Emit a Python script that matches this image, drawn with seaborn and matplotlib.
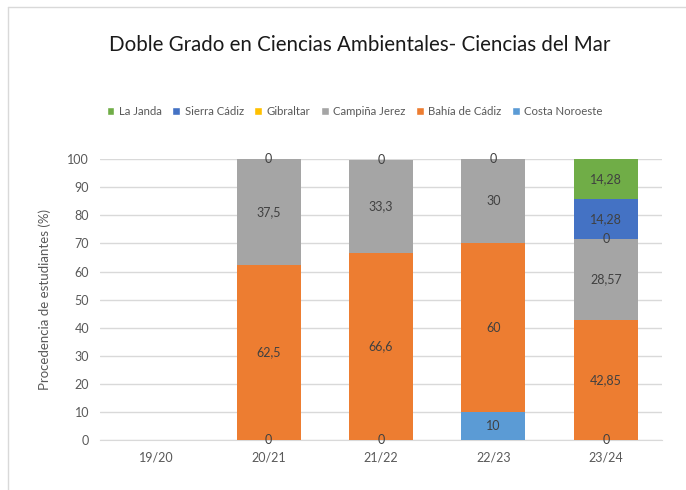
import numpy as np
import pandas as pd
import matplotlib.pyplot as plt
import seaborn as sns
from matplotlib.patches import Patch
from matplotlib.lines import Line2D

# -----------------------------
# Data (NaN = no data for that year)
# -----------------------------
years = ['19/20', '20/21', '21/22', '22/23', '23/24']
costa_noroeste = [np.nan, 0, 0, 10, 0]
bahia_cadiz = [np.nan, 62.5, 66.6, 60, 42.85]
campina_jerez = [np.nan, 37.5, 33.3, 30, 28.57]
gibraltar = [np.nan, 0, 0, 0, 0]
sierra_cadiz = [np.nan, np.nan, np.nan, np.nan, 14.28]
la_janda = [np.nan, np.nan, np.nan, np.nan, 14.28]

# stack order bottom -> top
series = [
    ('Costa Noroeste', costa_noroeste, '#5B9BD5'),
    ('Bahía de Cádiz', bahia_cadiz, '#ED7D31'),
    ('Campiña Jerez', campina_jerez, '#A5A5A5'),
    ('Gibraltar', gibraltar, '#FFC000'),
    ('Sierra Cádiz', sierra_cadiz, '#4472C4'),
    ('La Janda', la_janda, '#70AD47'),
]

sns.set_style('white')
plt.rcParams['font.family'] = ['Lato', 'DejaVu Sans']

fig = plt.figure(figsize=(6.86, 4.90), dpi=100)
ax = fig.add_axes([0.146, 0.102, 0.819, 0.573])

vals = np.array([np.nan_to_num(np.array(s[1], dtype=float)) for s in series])
cum = np.cumsum(vals, axis=0)

# draw cumulative bars from top layer down so lower layers sit in front
for i in range(len(series) - 1, -1, -1):
    df = pd.DataFrame({'Year': years, 'Total': cum[i]})
    sns.barplot(data=df, x='Year', y='Total', color=series[i][2], saturation=1,
                width=0.57, linewidth=0, ax=ax, zorder=3)

# data labels
for i, (name, v, c) in enumerate(series):
    for j, val in enumerate(v):
        if np.isnan(val):
            continue
        mid = cum[i][j] - vals[i][j] / 2
        txt = f'{val:g}'.replace('.', ',')
        ax.text(j, mid, txt, ha='center', va='center', fontsize=9,
                color='#404040', zorder=5)

ax.set_ylim(0, 100)
ax.set_xlim(-0.5, 4.5)
ax.set_yticks(range(0, 101, 10))
ax.yaxis.grid(True, color='#D9D9D9', linewidth=1)
ax.set_axisbelow(True)
for s in ['top', 'right', 'left']:
    ax.spines[s].set_visible(False)
ax.spines['bottom'].set_color('#D9D9D9')
ax.tick_params(axis='both', length=0, labelsize=9, colors='#595959', pad=8)
ax.set_xlabel('')
ax.set_ylabel('Procedencia de estudiantes (%)', fontsize=9.5, color='#595959', labelpad=12)

fig.text(0.525, 0.908, 'Doble Grado en Ciencias Ambientales- Ciencias del Mar',
         ha='center', va='center', fontsize=14.8, color='#1a1a1a')

handles = [Patch(facecolor=c, label=n) for n, v, c in series[::-1]]
fig.legend(handles=handles, loc='center', bbox_to_anchor=(0.517, 0.773), ncol=6,
           frameon=False, fontsize=8.2, handlelength=0.7, handleheight=0.7,
           handletextpad=0.4, columnspacing=0.9, labelcolor='#595959')

# chart frame (left and top edges visible)
fig.add_artist(Line2D([0.012, 0.012], [0, 0.986], transform=fig.transFigure,
                      color='#D9D9D9', linewidth=1))
fig.add_artist(Line2D([0.012, 1], [0.986, 0.986], transform=fig.transFigure,
                      color='#D9D9D9', linewidth=1))

fig.savefig('out.png', dpi=100)
